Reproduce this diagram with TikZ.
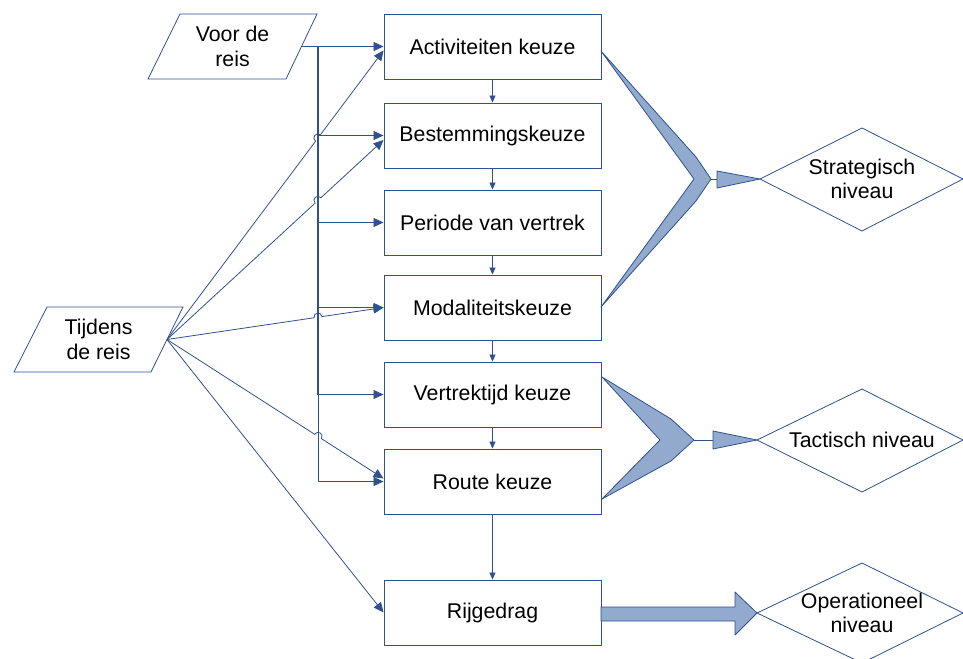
\documentclass[tikz,border=0pt]{standalone}
\usepackage{fontspec}
\setmainfont{Liberation Sans}
\usetikzlibrary{calc,arrows.meta}
\definecolor{edgeblue}{RGB}{47,82,143}
\definecolor{chevfill}{RGB}{145,170,205}
\newcommand\labelfont{\fontsize{21.4}{24.5}\selectfont}
\tikzset{
  box/.style={draw=edgeblue, line width=0.9bp, minimum width=217bp, minimum height=65bp,
              inner sep=0pt, font=\labelfont, align=center, fill=white},
  txt/.style={font=\labelfont, align=center, inner sep=0pt},
  shapeline/.style={draw=edgeblue, line width=0.8bp, line join=miter},
  conn/.style={edgeblue, line width=0.8bp, -{Triangle[length=10bp,width=9bp]}},
  flow/.style={edgeblue, line width=0.8bp, -{Triangle[length=7bp,width=6bp]}},
  bus/.style={edgeblue, line width=1.6bp},
  chev/.style={draw=edgeblue, line width=0.8bp, fill=chevfill, line join=round},
}
% diagonal connector that hops over the vertical bus line
\newcommand\hopto[3]{%
  \coordinate (#3x) at (intersection of #1--#2 and bust--busb);
  \coordinate (#3a) at ($(#3x)!4bp!(#1)$);
  \coordinate (#3b) at ($(#3x)!4bp!(#2)$);
  \draw[conn] (#1) -- (#3a) .. controls ($(#3a)!5.5bp!90:(#3x)$) and ($(#3b)!5.5bp!-90:(#3x)$) .. (#3b) -- (#2);}
\begin{document}
\begin{tikzpicture}[x=1bp,y=-1bp]
\useasboundingbox (0,0) rectangle (963,659);

% decision boxes
\node[box] (act)   at (492.5,46.5)  {Activiteiten keuze};
\node[box] (best)  at (492.5,135.5) {Bestemmingskeuze};
\node[box] (per)   at (492.5,222.5) {Periode van vertrek};
\node[box] (mod)   at (492.5,307.5) {Modaliteitskeuze};
\node[box] (vert)  at (492.5,394.5) {Vertrektijd keuze};
\node[box] (route) at (492.5,481.5) {Route keuze};
\node[box] (rij)   at (492.5,612.5) {Rijgedrag};

% flow between the boxes
\draw[flow] (act.south) -- (best.north);
\draw[flow] (best.south) -- (per.north);
\draw[flow] (per.south) -- (mod.north);
\draw[flow] (mod.south) -- (vert.north);
\draw[flow] (vert.south) -- (route.north);
\draw[flow] (route.south) -- (rij.north);

% input parallelograms
\draw[shapeline] (180,14) -- (317,14) -- (286,79) -- (148,79) -- cycle;
\node[txt] (voor) at (232.5,46.5) {Voor de\\reis};
\coordinate (voorr) at (301.5,46.5);
\draw[shapeline] (47,307) -- (183,307) -- (151,372) -- (14,372) -- cycle;
\node[txt] (tijd) at (98.5,339.5) {Tijdens\\de reis};
\coordinate (tijr) at (167,339.5);

% "voor de reis" bus
\coordinate (bust) at (318,46.5);
\coordinate (busb) at (318,481.5);
\draw[bus] (voorr) -- (bust) -- (318,395);
\draw[edgeblue, line width=1bp] (318,394) -- (busb);
\draw[conn] (bust) -- (act.west);
\draw[conn] (bust |- best.west) -- (best.west);
\draw[conn] (bust |- per.west) -- (per.west);
\draw[conn] (bust |- mod.west) -- (mod.west);
\draw[conn] (bust |- vert.west) -- (vert.west);
\draw[conn] (busb) -- (route.west);

% "tijdens de reis" connectors
\coordinate (tA) at ([yshift=-4bp]act.west);
\coordinate (tB) at ([yshift=-4.5bp]best.west);
\coordinate (tM) at (mod.west);
\coordinate (tR) at ([yshift=3bp]route.west);
\hopto{tijr}{tA}{hA}
\hopto{tijr}{tB}{hB}
\hopto{tijr}{tM}{hM}
\hopto{tijr}{tR}{hR}
\draw[conn] (tijr) -- (rij.west);

% strategic level
\draw[chev] (601,51) -- (696,157) -- (711,179) -- (696,201) -- (601,307) -- (694,179) -- cycle;
\draw[edgeblue, line width=0.8bp] (711,179) -- (717,179);
\draw[chev] (717,171) -- (760,179) -- (717,188) -- cycle;
\draw[shapeline] (760,179) -- (862,128) -- (963,179) -- (862,231) -- cycle;
\node[txt] (strat) at (862,179) {Strategisch\\niveau};

% tactical level
\draw[chev] (602,377) -- (671,419) -- (694,440) -- (671,461) -- (602,499) -- (660,440) -- cycle;
\draw[edgeblue, line width=0.8bp] (694,440) -- (713,440);
\draw[chev] (713,431) -- (757,440) -- (713,449) -- cycle;
\draw[shapeline] (757,440) -- (862,389) -- (963,440) -- (862,492) -- cycle;
\node[txt] (tact) at (862,440) {Tactisch niveau};

% operational level
\draw[chev] (601,607) -- (735,607) -- (735,592) -- (757,613) -- (735,635) -- (735,621) -- (601,621) -- cycle;
\draw[shapeline] (757,613) -- (862,563) -- (963,613) -- (862,663) -- cycle;
\node[txt] (oper) at (862,613) {Operationeel\\niveau};
\end{tikzpicture}
\end{document}
